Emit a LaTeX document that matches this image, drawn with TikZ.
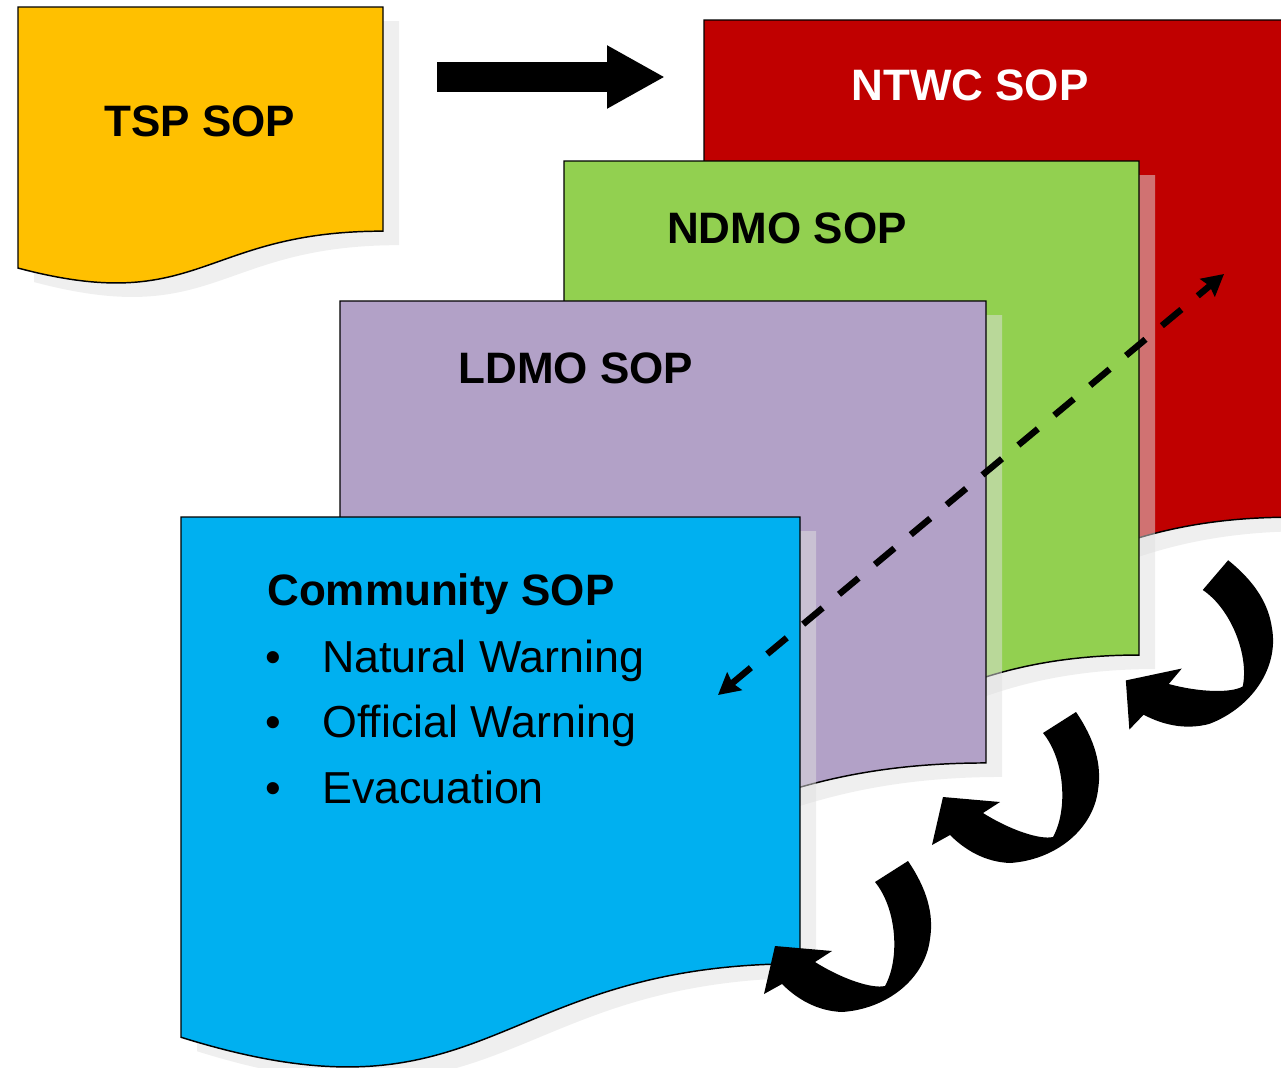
\documentclass[tikz,border=0pt]{standalone}
\usepackage{fontspec}
\setmainfont{Liberation Sans}
\usetikzlibrary{arrows.meta}

\definecolor{tspyellow}{HTML}{FFC000}
\definecolor{ntwcred}{HTML}{C00000}
\definecolor{ndmogreen}{HTML}{92D050}
\definecolor{ldmopurple}{HTML}{B2A1C7}
\definecolor{commblue}{HTML}{00B0F0}

% document sheet with a wavy lower edge: style, left, top, width, height
\newcommand\sopdoc[5]{%
  \path[#1] (#2,#3) -- ({#2+#4},#3) -- ({#2+#4},{#3+0.802*#5})
    .. controls ({#2+0.5*#4},{#3+0.802*#5}) and ({#2+0.5*#4},{#3+1.1075*#5})
    .. (#2,{#3+0.934*#5}) -- cycle;}
% sheet together with its drop shadow: fill colour, left, top, width, height
\newcommand\sopsheet[5]{%
  \begin{scope}[shift={(16,14)}]\sopdoc{docshadow}{#2}{#3}{#4}{#5}\end{scope}
  \sopdoc{docsheet,fill=#1}{#2}{#3}{#4}{#5}}

\tikzset{
  docshadow/.style={fill=black!12, fill opacity=0.51},
  docsheet/.style={draw=black, line width=1.1pt},
  sopttl/.style={inner sep=0pt, font=\bfseries\fontsize{33}{38}\selectfont},
  soplist/.style={inner sep=0pt, font=\fontsize{33.6}{38}\selectfont},
  linkarrow/.style={line width=4.8pt, dash pattern=on 19pt off 16pt,
    {Stealth[length=16pt,width=17pt,inset=2pt]}-{Stealth[length=16pt,width=17pt,inset=2pt]}},
  bigarrow/.style={line width=22.5pt, -{Triangle[length=43.5pt,width=44.25pt]}},
  uturn/.pic={
    \fill[black] (66,-58) .. controls (85,-30) and (92,-5) .. (88,20)
      .. controls (83,60) and (45,90) .. (0,93)
      .. controls (-25,92) and (-45,80) .. (-60,65)
      -- (-78,75) -- (-67,27) -- (-10,32) -- (-27,43)
      .. controls (0,60) and (30,70) .. (43,67)
      .. controls (58,40) and (55,-10) .. (33,-37) -- cycle;
  }
}

\begin{document}
\begin{tikzpicture}[x=0.75pt, y=-0.75pt]
  \useasboundingbox (0,0) rectangle (1281,1067);
  \clip (0,0) rectangle (1281,1067);

  % sheets, back to front
  \sopsheet{tspyellow}{18}{7}{365}{279.5}
  \sopsheet{ntwcred}{704}{20}{586}{620}
  \sopsheet{ndmogreen}{564}{161}{575}{616}
  \sopsheet{ldmopurple}{340}{301}{646}{576}
  \sopsheet{commblue}{181}{517}{619}{557}

  % titles
  \node[sopttl, anchor=base] (tspT) at (200,136) {TSP SOP};
  \node[sopttl, anchor=base, text=white] (ntwcT) at (970,100) {NTWC SOP};
  \node[sopttl, anchor=base] (ndmoT) at (787,243) {NDMO SOP};
  \node[sopttl, anchor=base] (ldmoT) at (576,383) {LDMO SOP};
  \node[sopttl, anchor=base west] (commT) at (267,605) {Community SOP};

  % community list
  \node[soplist, anchor=base] (dot1) at (273,672) {•};
  \node[soplist, anchor=base west] (item1) at (322,672) {Natural Warning};
  \node[soplist, anchor=base] (dot2) at (273,737) {•};
  \node[soplist, anchor=base west] (item2) at (322,737) {Official Warning};
  \node[soplist, anchor=base] (dot3) at (273,803) {•};
  \node[soplist, anchor=base west] (item3) at (322,803) {Evacuation};

  % TSP to NTWC
  \coordinate (bigA) at (437,77);
  \coordinate (bigB) at (665,77);
  \draw[bigarrow] (bigA) -- (bigB);

  % two-way link from community up to NTWC
  \coordinate (linkLow) at (718,695);
  \coordinate (linkHigh) at (1224,274);
  \draw[linkarrow] (linkLow) -- (linkHigh);

  % feedback turns between levels
  \pic[rotate=17] at (1182,635) {uturn};
  \pic at (1010,770) {uturn};
  \pic at (842,919) {uturn};
\end{tikzpicture}
\end{document}
